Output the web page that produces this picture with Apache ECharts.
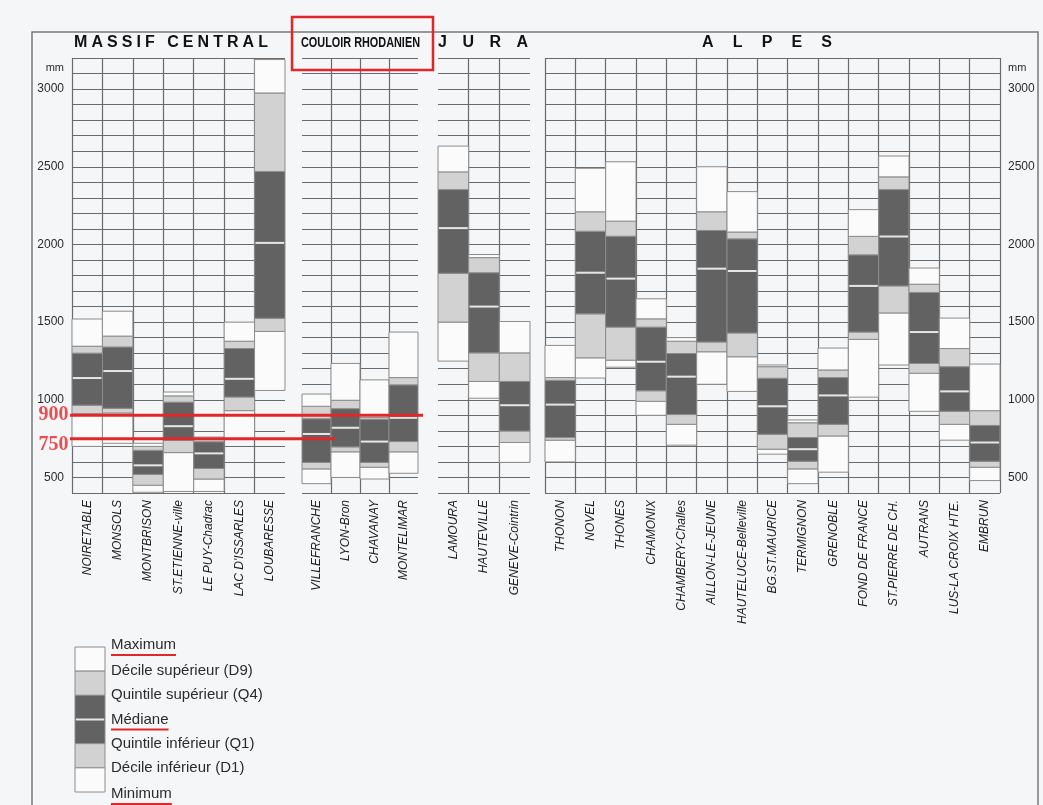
<!DOCTYPE html>
<html><head><meta charset="utf-8">
<script src="https://cdn.jsdelivr.net/npm/echarts@6/dist/echarts.min.js"></script>
<style>html,body{margin:0;padding:0;background:#f5f6f7}#c{width:1043px;height:805px}</style>
</head><body><div id="c"></div><script>
// ---------------- DATA ----------------
const regionNames = ['MASSIF CENTRAL', 'COULOIR RHODANIEN', 'JURA', 'ALPES'];
const regionSizes = [7, 4, 3, 15];
const stations = ['NOIRETABLE','MONSOLS','MONTBRISON','ST.ETIENNE-ville','LE PUY-Chadrac','LAC D\'ISSARLES','LOUBARESSE',
  'VILLEFRANCHE','LYON-Bron','CHAVANAY','MONTELIMAR',
  'LAMOURA','HAUTEVILLE','GENEVE-Cointrin',
  'THONON','NOVEL','THONES','CHAMONIX','CHAMBERY-Challes','AILLON-LE-JEUNE','HAUTELUCE-Belleville','BG.ST.MAURICE','TERMIGNON','GRENOBLE','FOND DE FRANCE','ST.PIERRE DE CH.','AUTRANS','LUS-LA CROIX HTE.','EMBRUN'];
const minimum = [700,720,405,410,410,750,1060, 460,500,490,527, 1249,1010,597, 600,1140,1210,900,708,1100,1054,650,460,534,1017,1224,926,740,480];
const decileInf = [910,915,450,660,490,930,1440, 555,665,566,665, 1500,1118,725, 740,1270,1255,990,842,1309,1277,682,555,767,1389,1559,1171,842,566];
const quintileInf = [965,945,520,738,558,1018,1525, 597,697,597,731, 1814,1302,799, 757,1553,1468,1058,905,1372,1430,778,604,842,1436,1733,1234,926,604];
const mediane = [1140,1185,578,830,655,1135,2010, 780,820,731,884, 2105,1600,965, 969,1818,1780,1245,1149,1844,1829,958,682,1028,1733,2051,1436,1054,725];
const quintileSup = [1300,1340,675,985,730,1330,2470, 878,943,873,1096, 2353,1818,1118, 1125,2085,2053,1468,1298,2090,2036,1139,757,1143,1933,2353,1691,1213,835];
const decileSup = [1345,1410,700,1025,750,1377,2975, 958,997,885,1143, 2467,1915,1302, 1143,2210,2150,1521,1377,2210,2080,1213,852,1192,2052,2435,1744,1330,930];
const maximum = [1520,1570,720,1050,760,1500,3190, 1037,1234,1128,1436, 2633,1935,1504, 1350,2490,2532,1650,1400,2500,2340,1224,870,1333,2224,2569,1848,1526,1230];
const yTickLabels = [500, 1000, 1500, 2000, 2500, 3000];
const legendLabels = ['Maximum','Décile supérieur (D9)','Quintile supérieur (Q4)','Médiane','Quintile inférieur (Q1)','Décile inférieur (D1)','Minimum'];
const underlinedLegend = ['Maximum','Médiane','Minimum'];
const annotValues = [900, 750];
const annotLabels = ['900', '750'];

// ---------------- STYLE / LAYOUT ----------------
const C_WHITE = '#fbfbfb', C_LIGHT = '#d2d2d2', C_DARK = '#626262', C_EDGE = '#8c8c8c', C_MED = '#e6e6e6';
const C_GRID = '#6a6a6a', C_RED = '#e3262a';
const SANS = '"Liberation Sans", Arial, Helvetica, sans-serif';
const Y_MIN = 400, Y_MAX = 3200;
const gridTop = 58, gridHeight = 435;
const gridBoxes = [{left:72,width:213},{left:302,width:116},{left:438,width:92},{left:545,width:455}];
const annotBox = {left:70, width:353};
const annotSpan = [1, 0.75];
const annotLabelOffset = [0, 6];

const measureCtx = document.createElement('canvas').getContext('2d');
function textWidth(t, font){ measureCtx.font = font; return measureCtx.measureText(t).width; }

const chart = echarts.init(document.getElementById('c'), null, {renderer:'canvas'});

const grids = [], xAxes = [], yAxes = [], series = [];
let offset = 0;
gridBoxes.forEach((b, gi) => {
  const n = regionSizes[gi];
  const idx = [...Array(n).keys()].map(k => k + offset);
  offset += n;
  grids.push({left:b.left, width:b.width, top:gridTop, height:gridHeight, containLabel:false});
  xAxes.push({
    type:'category', gridIndex:gi, data: idx.map(i => stations[i]), boundaryGap:true,
    axisLine:{show:false}, axisTick:{show:false},
    axisLabel:{interval:0, rotate:90, margin:7, fontSize:12, fontStyle:'italic', fontFamily:SANS, color:'#1e1e1e'},
    splitLine:{show:true, interval:0, showMinLine: gi===0 || gi===3, showMaxLine: gi===3, lineStyle:{color:C_GRID, width:1.2}}
  });
  yAxes.push({
    type:'value', gridIndex:gi, min:Y_MIN, max:Y_MAX, interval:100,
    position: gi===3 ? 'right' : 'left',
    axisLine:{show:false}, axisTick:{show:false},
    axisLabel:{show: gi===0 || gi===3, margin:8, fontSize:12, fontFamily:SANS, color:'#2a2a2a',
      formatter: v => yTickLabels.includes(v) ? String(v) : ''},
    splitLine:{show:true, lineStyle:{color:C_GRID, width:1.2}}
  });
  series.push({
    type:'custom', xAxisIndex:gi, yAxisIndex:gi,
    encode:{x:0, y:[1,2,3,4,5,6,7]},
    data: idx.map((i, k) => [k, minimum[i], decileInf[i], quintileInf[i], mediane[i], quintileSup[i], decileSup[i], maximum[i]]),
    renderItem: function(params, api){
      const x = api.value(0);
      const vals = [1,2,3,4,5,6,7].map(j => api.value(j));
      const bw = api.size([1, 0])[0];
      const cx = api.coord([x, Y_MIN])[0];
      const left = cx - bw/2;
      const fills = [C_WHITE, C_LIGHT, C_DARK, C_DARK, C_LIGHT, C_WHITE];
      const children = [];
      for (let k = 0; k < 6; k++) {
        const yTop = api.coord([x, vals[k+1]])[1];
        const yBot = api.coord([x, vals[k]])[1];
        children.push({type:'rect', shape:{x:left, y:yTop, width:bw, height:Math.max(0, yBot-yTop)},
          style:{fill:fills[k], stroke:C_EDGE, lineWidth:1}});
      }
      const ym = api.coord([x, vals[3]])[1];
      children.push({type:'line', shape:{x1:left+1, y1:ym, x2:left+bw-1, y2:ym}, style:{stroke:C_MED, lineWidth:2}});
      return {type:'group', children};
    }
  });
});

// annotation overlay grid (same value scale)
const ag = grids.length;
grids.push({left:annotBox.left, width:annotBox.width, top:gridTop, height:gridHeight});
xAxes.push({type:'value', gridIndex:ag, min:0, max:1, show:false});
yAxes.push({type:'value', gridIndex:ag, min:Y_MIN, max:Y_MAX, show:false});
annotValues.forEach((v, i) => {
  series.push({type:'line', xAxisIndex:ag, yAxisIndex:ag, symbol:'none', z:10, silent:true,
    lineStyle:{color:C_RED, width:3}, data:[[0, v], [annotSpan[i], v]]});
  series.push({type:'scatter', xAxisIndex:ag, yAxisIndex:ag, symbolSize:1, z:11, silent:true,
    itemStyle:{color:'rgba(0,0,0,0)'},
    label:{show:true, position:'left', distance:1, offset:[0, annotLabelOffset[i]], formatter:annotLabels[i],
      color:C_RED, fontSize:20, fontWeight:'bold', fontFamily:'"Liberation Serif", "Times New Roman", serif'},
    data:[[0, v]]});
});

// ---------------- GRAPHIC (frame, titles, legend) ----------------
const graphics = [];
graphics.push({type:'rect', shape:{x:32, y:32, width:1006, height:800}, style:{fill:null, stroke:'#7a7a7a', lineWidth:1.5}, z:-1});

function spacedTitle(str, x0, x1, yc, size) {
  const font = `bold ${size}px ${SANS}`;
  const chars = [...str];
  const w = chars.map(c => textWidth(c, font));
  const gap = (x1 - x0 - w.reduce((a,b)=>a+b,0)) / (chars.length - 1);
  let x = x0;
  chars.forEach((c, i) => {
    if (c !== ' ') graphics.push({type:'text', x, y:yc, style:{text:c, fontSize:size, fontWeight:'bold', fontFamily:SANS, fill:'#111', align:'left', verticalAlign:'middle'}});
    x += w[i] + gap;
  });
}
spacedTitle(regionNames[0], 74, 268, 43, 16);
spacedTitle(regionNames[2], 438, 528, 43, 16);
spacedTitle(regionNames[3], 702, 832, 43, 16);
(function(){
  const size = 15, font = `bold ${size}px ${SANS}`;
  const w = textWidth(regionNames[1], font);
  graphics.push({type:'text', x:301, y:43, scaleX:119/w, style:{text:regionNames[1], fontSize:size, fontWeight:'bold', fontFamily:SANS, fill:'#111', align:'left', verticalAlign:'middle'}});
})();
graphics.push({type:'rect', shape:{x:292, y:17, width:141, height:53}, style:{fill:null, stroke:C_RED, lineWidth:2.5}, z:20});
graphics.push({type:'text', x:64, y:68, style:{text:'mm', fontSize:11, fontFamily:SANS, fill:'#2a2a2a', align:'right', verticalAlign:'middle'}});
graphics.push({type:'text', x:1008, y:68, style:{text:'mm', fontSize:11, fontFamily:SANS, fill:'#2a2a2a', align:'left', verticalAlign:'middle'}});

// legend
(function(){
  const x = 75, w = 30, top = 647, bottom = 792;
  const segH = (bottom - top) / 6;
  const fills = [C_WHITE, C_LIGHT, C_DARK, C_DARK, C_LIGHT, C_WHITE];
  fills.forEach((f, k) => graphics.push({type:'rect', shape:{x, y:top + k*segH, width:w, height:segH}, style:{fill:f, stroke:C_EDGE, lineWidth:1}}));
  graphics.push({type:'line', shape:{x1:x+1, y1:top+3*segH, x2:x+w-1, y2:top+3*segH}, style:{stroke:C_MED, lineWidth:2}});
  const font = `15px ${SANS}`;
  legendLabels.forEach((t, k) => {
    const yc = top + k*segH + (k===0 ? -2 : (k===6 ? 2 : 0));
    graphics.push({type:'text', x:111, y:yc, style:{text:t, fontSize:15, fontFamily:SANS, fill:'#2b2b2b', align:'left', verticalAlign:'middle'}});
    if (underlinedLegend.includes(t)) {
      const tw = textWidth(t, font);
      graphics.push({type:'line', shape:{x1:111, y1:yc+10, x2:111+tw, y2:yc+10}, style:{stroke:C_RED, lineWidth:2}});
    }
  });
})();

chart.setOption({
  backgroundColor:'#f5f6f7',
  animation:false,
  grid:grids, xAxis:xAxes, yAxis:yAxes, series, graphic:graphics
});
</script></body></html>
